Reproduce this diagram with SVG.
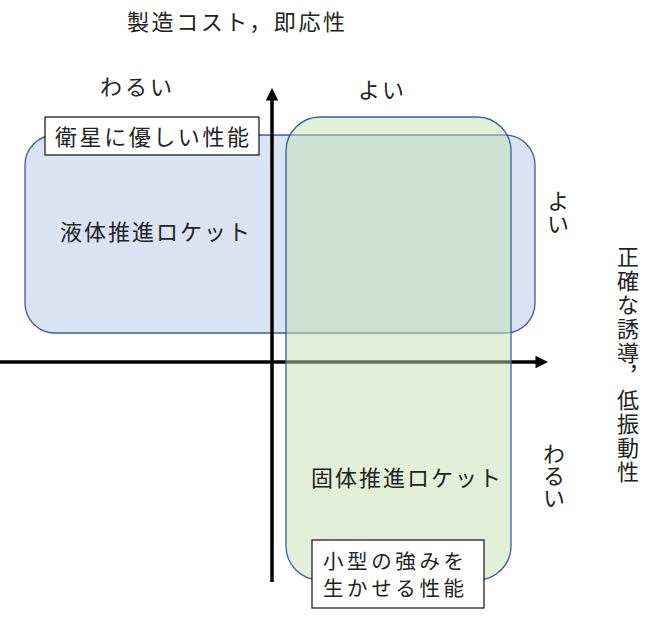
<svg xmlns="http://www.w3.org/2000/svg" width="652" height="618" viewBox="0 0 652 618">
<defs>
<style>
text{font-family:"Noto Sans CJK JP","Noto Sans",sans-serif;font-size:22px;fill:#222;}
.v{writing-mode:vertical-rl;text-orientation:upright;}
.axis{stroke:#000;stroke-width:3.5;fill:none;}
.box{fill:#fff;stroke:#222;stroke-width:1.3;}
.small{font-size:20.5px;}
</style>
<marker id="ah" viewBox="0 0 10 10" refX="2" refY="5" markerWidth="3.6" markerHeight="3.6" orient="auto" markerUnits="strokeWidth">
<path d="M0,0 L10,5 L0,10 z" fill="#000"/>
</marker>
</defs>
<rect width="652" height="618" fill="#fff"/>
<g id="liquid">
<rect x="25" y="135" width="510" height="198" rx="30" ry="30" fill="#b4c7e7" fill-opacity="0.5" stroke="#3a5e9c" stroke-width="1.3"/>
</g>
<g id="axes">
<line class="axis" x1="272" y1="582" x2="272" y2="98" marker-end="url(#ah)"/>
<line class="axis" x1="0" y1="362" x2="538" y2="362" marker-end="url(#ah)"/>
</g>
<g id="solid">
<rect x="286" y="117" width="225" height="463" rx="34" ry="34" fill="#c5e0b4" fill-opacity="0.5" stroke="#3a5e9c" stroke-width="1.3"/>
</g>
<g id="title"><text x="127" y="30" textLength="218" lengthAdjust="spacing">製造コスト，即応性</text></g>
<g id="x-bad"><text x="100" y="95" textLength="72" lengthAdjust="spacing">わるい</text></g>
<g id="x-good"><text x="358" y="98" textLength="46" lengthAdjust="spacing">よい</text></g>
<g id="label-sat">
<rect class="box" x="45" y="117" width="214" height="38"/>
<text x="55" y="145" textLength="194" lengthAdjust="spacing">衛星に優しい性能</text>
</g>
<g id="liquid-label"><text x="60" y="240" textLength="190" lengthAdjust="spacing">液体推進ロケット</text></g>
<g id="solid-label"><text x="311" y="486" textLength="190" lengthAdjust="spacing">固体推進ロケット</text></g>
<g id="label-small">
<rect class="box" x="312" y="540" width="172" height="68"/>
<text class="small" x="323" y="569" textLength="141" lengthAdjust="spacing">小型の強みを</text>
<text class="small" x="323" y="596" textLength="141" lengthAdjust="spacing">生かせる性能</text>
</g>
<g id="y-good"><text class="v" x="558" y="190" style="letter-spacing:1px">よい</text></g>
<g id="y-bad"><text class="v" x="554" y="443">わるい</text></g>
<g id="y-title"><text class="v" x="628" y="246" style="letter-spacing:1.8px">正確な誘導，低振動性</text></g>
</svg>
